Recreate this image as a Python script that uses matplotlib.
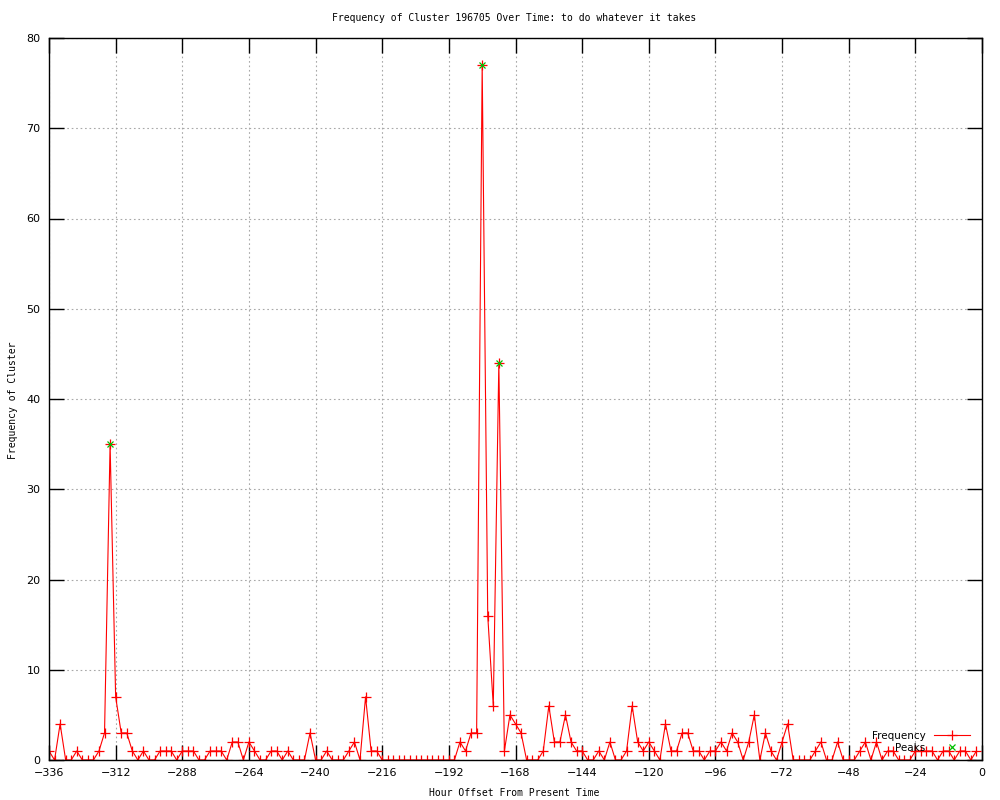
import matplotlib
matplotlib.use("Agg")
import matplotlib.pyplot as plt

# -------------------------------
# DATA (2-hour bins, hours before present)
# -------------------------------
hours = list(range(-336, 0, 2))
freq = [
    1, 0, 4, 0, 0, 1, 0, 0, 0, 1, 3, 35,      # -336 .. -314
    7, 3, 3, 1, 0, 1, 0, 0, 1, 1, 1, 0,       # -312 .. -290
    1, 1, 1, 0, 0, 1, 1, 1, 0, 2, 2, 0,       # -288 .. -266
    2, 1, 0, 0, 1, 1, 0, 1, 0, 0, 0, 3,       # -264 .. -242
    0, 0, 1, 0, 0, 0, 1, 2, 0, 7, 1, 1,       # -240 .. -218
    0, 0, 0, 0, 0, 0, 0, 0, 0, 0, 0, 0,       # -216 .. -194
    0, 0, 2, 1, 3, 3, 77, 16, 6, 44, 1, 5,    # -192 .. -170
    4, 3, 0, 0, 0, 1, 6, 2, 2, 5, 2, 1,       # -168 .. -146
    1, 0, 0, 1, 0, 2, 0, 0, 1, 6, 2, 1,       # -144 .. -122
    2, 1, 0, 4, 1, 1, 3, 3, 1, 1, 0, 1,       # -120 .. -98
    1, 2, 1, 3, 2, 0, 2, 5, 0, 3, 1, 0,       # -96 .. -74
    2, 4, 0, 0, 0, 0, 1, 2, 0, 0, 2, 0,       # -72 .. -50
    0, 0, 1, 2, 0, 2, 0, 1, 1, 0, 0, 0,       # -48 .. -26
    1, 1, 1, 1, 0, 1, 1, 0, 1, 1, 0, 1,       # -24 .. -2
]
peak_hours = [-314, -180, -174]
peak_vals = [35, 77, 44]

x_ticks = list(range(-336, 1, 24))
y_ticks = list(range(0, 81, 10))

# -------------------------------
# PLOT
# -------------------------------
plt.rcParams["font.family"] = "DejaVu Sans"
fig = plt.figure(figsize=(10, 8), dpi=100)
ax = fig.add_axes([0.049, 0.05, 0.933, 0.9025])

ax.plot(hours, freq, color="red", lw=0.8, marker="+", ms=7, mew=0.9,
        label="Frequency")
ax.plot(peak_hours, peak_vals, ls="none", color="#00c000", marker="x",
        ms=5, mew=0.9, label="Peaks")

ax.set_xlim(-336, 0)
ax.set_ylim(0, 80)
ax.set_xticks(x_ticks)
ax.set_yticks(y_ticks)
ax.tick_params(direction="in", length=11, width=1, top=True, right=True,
               labelsize=8, pad=6)
ax.grid(True, color="#a8a8a8", lw=0.8, ls=(0, (1.5, 2.5)))
for s in ax.spines.values():
    s.set_linewidth(1)

mono = "DejaVu Sans Mono"
fig.text(0.514, 0.9775, "Frequency of Cluster 196705 Over Time: to do whatever it takes",
         ha="center", va="center", fontsize=7, family=mono)
fig.text(0.514, 0.009, "Hour Offset From Present Time", ha="center", va="center",
         fontsize=7, family=mono)
fig.text(0.013, 0.5, "Frequency of Cluster", ha="center", va="center",
         rotation=90, fontsize=7, family=mono)

ax.legend(loc="lower right", bbox_to_anchor=(0.995, 0.0), markerfirst=False,
          frameon=False, fontsize=7.5, handlelength=3.5, labelspacing=0.2,
          borderaxespad=0.3)

fig.savefig("out.png", dpi=100)
